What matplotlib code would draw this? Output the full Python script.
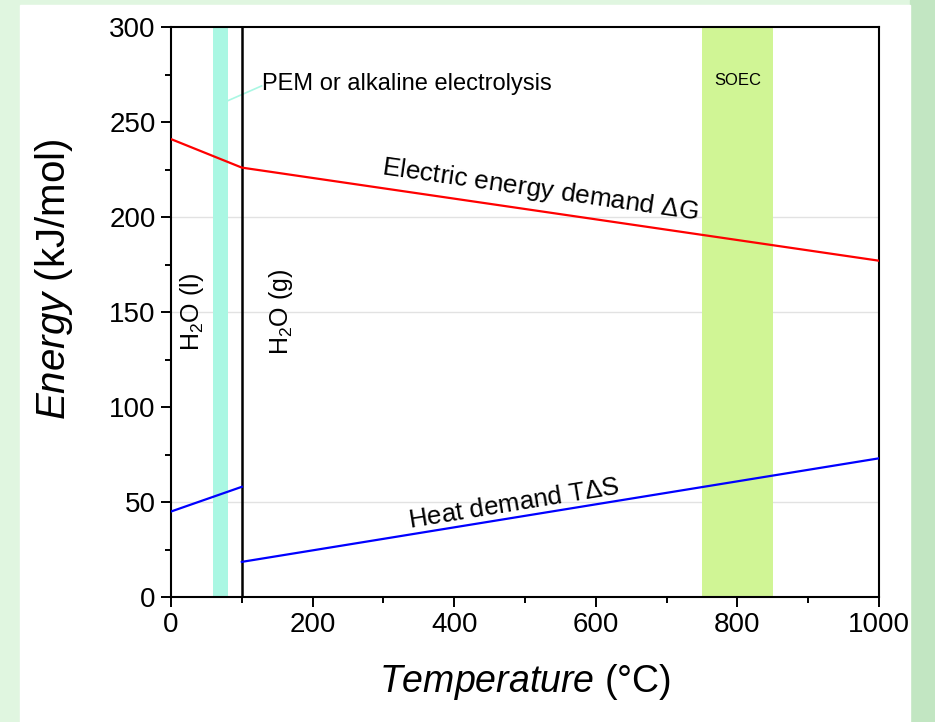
import numpy as np
import matplotlib.pyplot as plt
from matplotlib.patches import Rectangle

plt.rcParams['font.family'] = ['Liberation Sans', 'DejaVu Sans']
plt.rcParams['mathtext.fontset'] = 'custom'
plt.rcParams['mathtext.rm'] = 'Liberation Sans'
plt.rcParams['mathtext.it'] = 'Liberation Sans:italic'

# datos
T_elec = [0, 100, 1000]
dG = [241, 226, 177]
T_liq = [0, 100]
TdS_liq = [45, 58]
T_gas = [100, 1000]
TdS_gas = [18.5, 73]

pem_band = (60, 80)
soec_band = (750, 850)
T_boil = 100
grid_y = [50, 150, 200]

fig = plt.figure(figsize=(9.35, 7.22), dpi=100, facecolor='#e0f6e0')
# fondo decorativo
fig.patches.append(Rectangle((0.9733, 0), 0.03, 1, transform=fig.transFigure,
                             color='#c2e6c2', zorder=-2))
fig.patches.append(Rectangle((0.0214, 0), 0.952, 0.993, transform=fig.transFigure,
                             color='white', zorder=-2))

ax = fig.add_axes([0.1829, 0.1731, 0.7572, 0.7895])

for g in grid_y:
    ax.axhline(g, color='#e2e2e2', lw=1, zorder=0)

ax.axvspan(*pem_band, color='#aaf7e3', lw=0, zorder=1)
ax.axvspan(*soec_band, color='#d0f595', lw=0, zorder=1)
ax.axvline(T_boil, color='black', lw=1.8, zorder=3)

ax.plot(T_elec, dG, color='red', lw=1.6, zorder=4)
ax.plot(T_liq, TdS_liq, color='blue', lw=1.6, zorder=4)
ax.plot(T_gas, TdS_gas, color='blue', lw=1.6, zorder=4)

ax.set_xlim(0, 1000)
ax.set_ylim(0, 300)
ax.set_xticks(range(0, 1001, 200))
ax.set_xticks(range(100, 1000, 200), minor=True)
ax.set_yticks(range(0, 301, 50))
ax.set_yticks(range(25, 300, 50), minor=True)
ax.tick_params(which='major', length=7, width=1.4, labelsize=20, pad=4)
ax.tick_params(which='minor', length=4, width=1.4)
for s in ax.spines.values():
    s.set_linewidth(1.5)

ax.set_xlabel(r'$\it{Temperature}$ (°C)', fontsize=27, labelpad=17)
ax.set_ylabel(r'$\it{Energy}$ (kJ/mol)', fontsize=29)
ax.yaxis.set_label_coords(-0.136, 0.558)

ax.plot([79, 128], [261, 269], color='#aaf7e3', lw=1.2, zorder=2)
ax.text(129, 270, 'PEM or alkaline electrolysis', fontsize=17, va='center', ha='left')
ax.text(800, 272, 'SOEC', fontsize=12, ha='center', va='center')
ax.text(521, 214, r'Electric energy demand $\Delta$G', fontsize=18.8,
        rotation=-8.2, ha='center', va='center', rotation_mode='anchor')
ax.text(484, 49, r'Heat demand T$\Delta$S', fontsize=18.6,
        rotation=9.3, ha='center', va='center', rotation_mode='anchor')
ax.text(30, 150, r'H$_2$O (l)', fontsize=18, rotation=90, ha='center', va='center')
ax.text(155, 150, r'H$_2$O (g)', fontsize=18, rotation=90, ha='center', va='center')

fig.savefig('out.png', dpi=100, facecolor=fig.get_facecolor())
